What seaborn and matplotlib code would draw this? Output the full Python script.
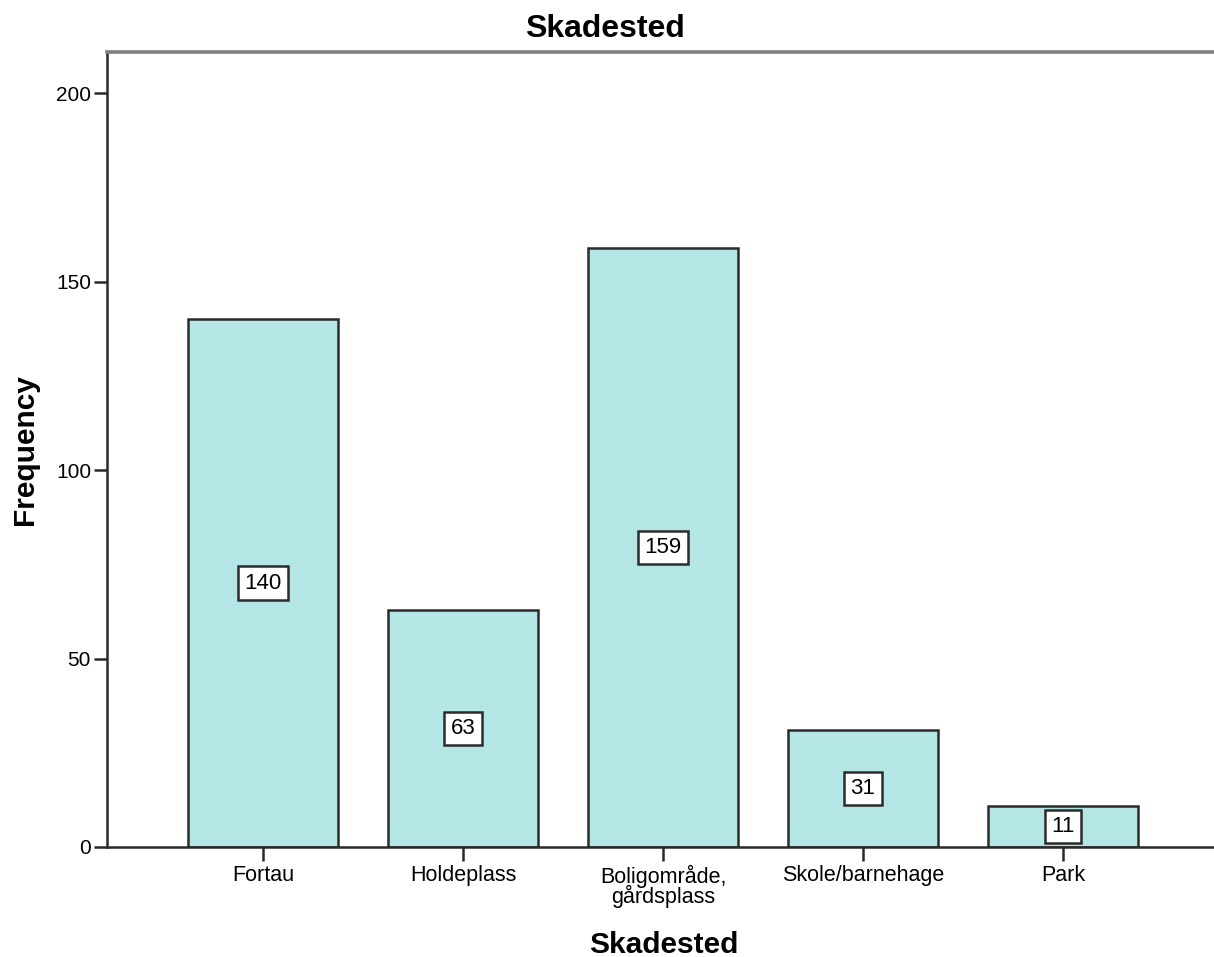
import matplotlib
matplotlib.use("Agg")
import matplotlib.pyplot as plt
import seaborn as sns

categories = ["Fortau", "Holdeplass", "Boligområde,\ngårdsplass", "Skole/barnehage", "Park"]
counts = [140, 63, 159, 31, 11]

sns.set_style("white")
plt.rcParams['font.family'] = ['Liberation Sans', 'DejaVu Sans']
plt.rcParams['text.color'] = 'black'
plt.rcParams['axes.labelcolor'] = 'black'
plt.rcParams['xtick.color'] = 'black'
plt.rcParams['ytick.color'] = 'black'

W, H = 1214, 957
fig = plt.figure(figsize=(W / 100, H / 100), dpi=100)
ax = fig.add_axes([107 / W, (H - 847) / H, 1 - 107 / W, 795 / H])

sns.barplot(x=categories, y=counts, color="#b4e6e6", saturation=1,
            width=0.75, edgecolor="#2b2b2b", linewidth=1.8, ax=ax)

# value labels in white boxes at half bar height
for i, v in enumerate(counts):
    ax.text(i, v / 2, str(v), ha='center', va='center', fontsize=16,
            bbox=dict(boxstyle='square,pad=0.28', facecolor='white',
                      edgecolor='#2b2b2b', linewidth=1.8), clip_on=True)

ax.set_xlim(-0.78, 4.755)
ax.set_ylim(0, 210.9)
ax.set_yticks([0, 50, 100, 150, 200])
ax.tick_params(axis='y', length=9.5, width=1.8, color='#2b2b2b', labelsize=15, pad=2, left=True)
ax.tick_params(axis='x', length=10, width=1.8, color='#2b2b2b', labelsize=15.5, pad=3, bottom=True)
for lbl in ax.get_xticklabels():
    lbl.set_linespacing(0.8)

ax.spines['right'].set_visible(False)
ax.spines['top'].set_color('#7f7f7f')
ax.spines['top'].set_linewidth(2.6)
for side in ['left', 'bottom']:
    ax.spines[side].set_color('#2b2b2b')
    ax.spines[side].set_linewidth(1.8)

fig.text(604.5 / W, 1 - 37 / H, "Skadested", ha='center', va='baseline',
         fontsize=23, fontweight='bold')

ax.set_xlabel("Skadested", fontsize=21.5, fontweight='bold')
ax.xaxis.set_label_coords(664 / W, 1 - 953 / H, transform=fig.transFigure)
ax.xaxis.label.set_va('baseline')

ax.set_ylabel("Frequency", fontsize=21.5, fontweight='bold')
ax.yaxis.set_label_coords(33 / W, 1 - 450 / H, transform=fig.transFigure)
ax.yaxis.label.set_va('baseline')

plt.savefig("out.png", dpi=100)
